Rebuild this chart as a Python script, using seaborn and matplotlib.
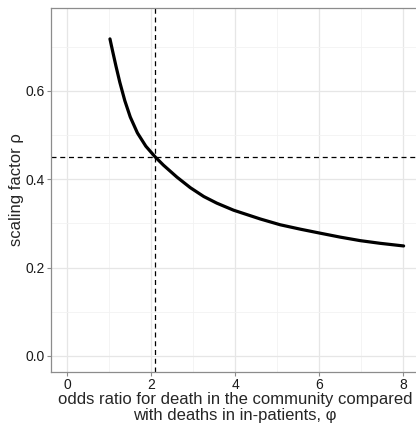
import matplotlib
matplotlib.use("Agg")
import matplotlib.pyplot as plt
import seaborn as sns
import pandas as pd
from matplotlib.ticker import MultipleLocator

phi = [1.016, 1.08, 1.16, 1.25, 1.37, 1.50, 1.67, 1.87, 2.09, 2.29, 2.61, 2.93, 3.25,
       3.56, 3.96, 4.60, 5.07, 5.55, 6.02, 6.50, 6.98, 7.45, 8.01]
rho = [0.718, 0.690, 0.656, 0.620, 0.578, 0.541, 0.505, 0.475, 0.451, 0.432, 0.405, 0.381, 0.361,
       0.346, 0.330, 0.310, 0.297, 0.287, 0.278, 0.269, 0.261, 0.255, 0.249]
phi_ref = 2.1
rho_ref = 0.45
x_ticks = [0, 2, 4, 6, 8]
y_ticks = [0.0, 0.2, 0.4, 0.6]
x_label = "odds ratio for death in the community compared\nwith deaths in in-patients, φ"
y_label = "scaling factor ρ"

sns.set_style("white")
plt.rcParams["font.family"] = ["Liberation Sans", "DejaVu Sans"]

df = pd.DataFrame({"phi": phi, "rho": rho})
fig = plt.figure(figsize=(4.16, 4.23), dpi=100)
ax = fig.add_axes([50.5/416, 51/423, (420-50.5)/416, (372-8)/423])

ax.set_xlim(-0.4, 8.4)
ax.set_ylim(-0.0365, 0.788)
ax.xaxis.set_minor_locator(MultipleLocator(1))
ax.yaxis.set_minor_locator(MultipleLocator(0.1))
ax.set_xticks(x_ticks)
ax.set_yticks(y_ticks)
ax.set_xticklabels([f"{v:g}" for v in x_ticks])
ax.set_yticklabels([f"{v:.1f}" for v in y_ticks])
ax.grid(True, which="major", color="#e6e6e6", linewidth=0.9)
ax.grid(True, which="minor", color="#f2f2f2", linewidth=0.6)
ax.set_axisbelow(True)

ax.axhline(rho_ref, color="black", linewidth=0.9, linestyle=(0, (4, 3)), zorder=2)
ax.axvline(phi_ref, color="black", linewidth=0.9, linestyle=(0, (4, 3)), zorder=2)
sns.lineplot(data=df, x="phi", y="rho", ax=ax, color="black", linewidth=2.3, zorder=3,
             solid_capstyle="round", solid_joinstyle="round")

for s in ["left", "bottom", "top", "right"]:
    ax.spines[s].set_color("#8c8c8c")
    ax.spines[s].set_linewidth(0.9)
ax.tick_params(axis="both", which="major", length=3, width=0.8, color="#8c8c8c",
               labelsize=10, labelcolor="#1a1a1a", pad=1, bottom=True, left=True)
ax.tick_params(which="minor", length=0)

ax.set_xlabel(x_label, fontsize=12, linespacing=1.1)
ax.set_ylabel(y_label, fontsize=12)
ax.xaxis.set_label_coords(0.5, (372-392)/364)
ax.xaxis.label.set_va("top")
ax.yaxis.set_label_coords((17-50.5)/369.5, 0.5)
ax.yaxis.label.set_va("center")
fig.savefig("out.png", dpi=100)
